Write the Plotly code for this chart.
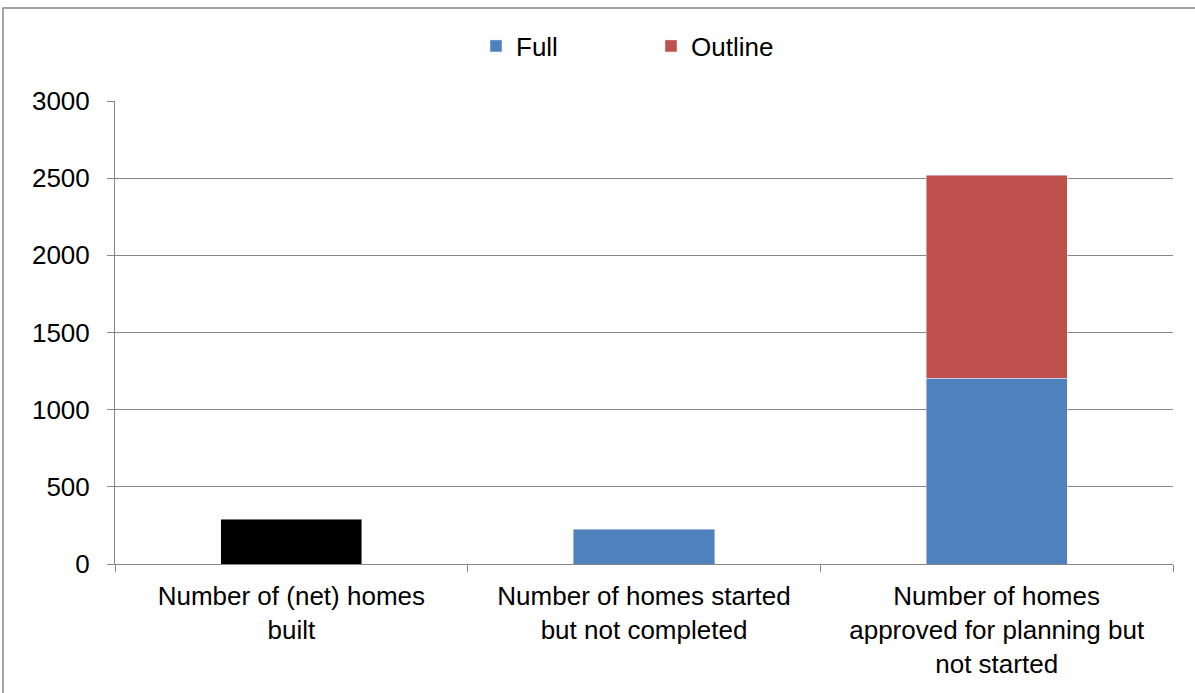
import plotly.graph_objects as go

categories = [
    "Number of (net) homes<br>built",
    "Number of homes started<br>but not completed",
    "Number of homes<br>approved for planning but<br>not started",
]
built = [290, None, None]
full = [None, 225, 1205]
outline = [None, None, 1315]

FONT = "Liberation Sans, Arial, sans-serif"

fig = go.Figure()
fig.add_trace(go.Bar(x=categories, y=built, name="Built", marker_color="#000000",
                     showlegend=False, width=0.4))
fig.add_trace(go.Bar(x=categories, y=full, name="Full", marker_color="#4F81BD", width=0.4))
fig.add_trace(go.Bar(x=categories, y=outline, name="Outline", marker_color="#C0504D", width=0.4))

L, R, T, B = 115, 22, 101, 129
W, H = 1195, 693
pw = W - L - R
ph = H - T - B

fig.update_layout(
    barmode="stack",
    width=W, height=H,
    margin=dict(l=L, r=R, t=T, b=B, autoexpand=False),
    paper_bgcolor="white", plot_bgcolor="white",
    font=dict(family=FONT, size=26, color="#000000"),
    legend=dict(orientation="h", x=(476 - L) / pw, xanchor="left",
                y=1 + (T - 46) / ph, yanchor="middle",
                font=dict(size=26), entrywidth=130, itemwidth=30,
                traceorder="normal"),
    showlegend=True,
    xaxis=dict(showline=True, linecolor="#868686", linewidth=1,
               ticks="outside", tickson="boundaries", ticklen=7, tickcolor="#868686",
               ticklabelstandoff=9,
               showgrid=False, tickfont=dict(size=26), fixedrange=True),
    yaxis=dict(range=[0, 3000], dtick=500, showgrid=True, gridcolor="#868686", gridwidth=1,
               showline=True, linecolor="#868686", linewidth=1,
               ticks="outside", ticklen=7, tickcolor="#868686",
               ticklabelstandoff=12, tickfont=dict(size=26), zeroline=False,
               fixedrange=True),
    shapes=[dict(type="rect", xref="paper", yref="paper",
                 x0=(3 - L) / pw, x1=(1198 - L) / pw,
                 y0=-(700 - (H - B)) / ph,
                 y1=1 + (T - 8) / ph,
                 line=dict(color="#888888", width=1.5), layer="below")],
)

fig.write_html("out.html")
